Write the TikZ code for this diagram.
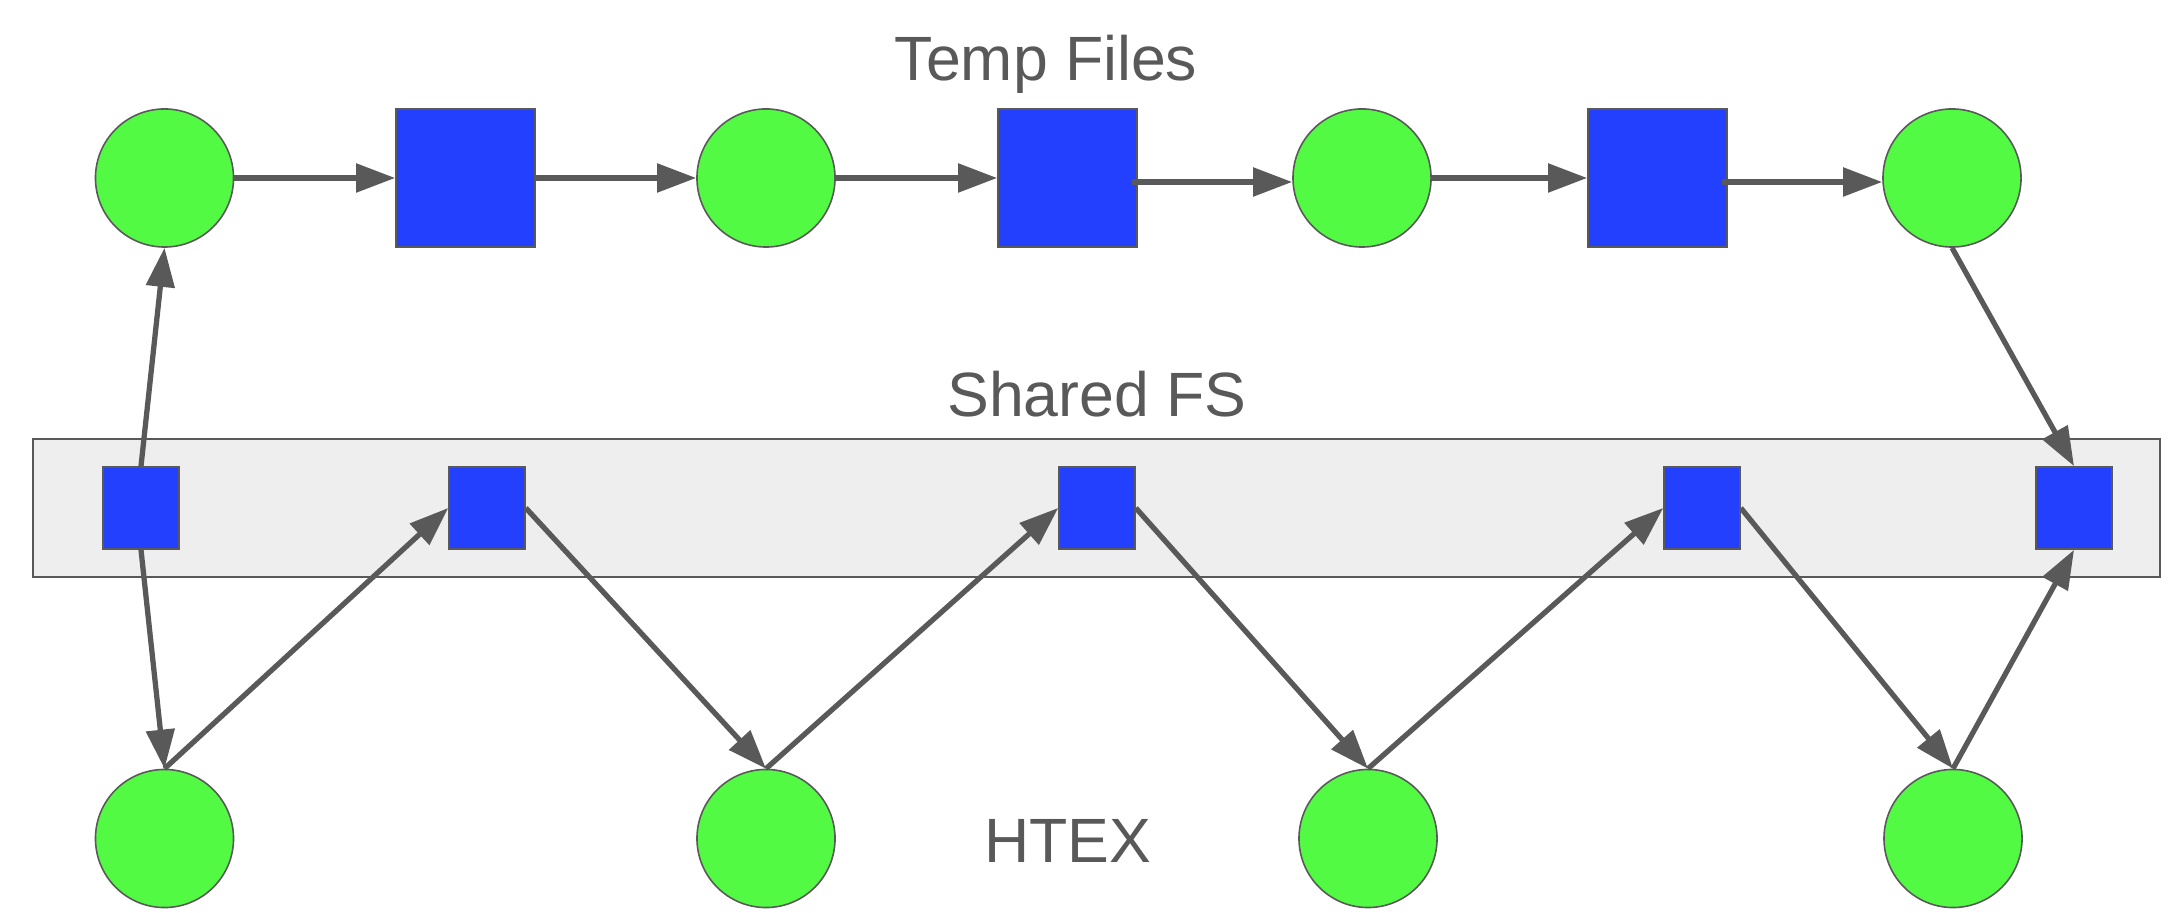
\documentclass[tikz,border=0pt]{standalone}
\usepackage{fontspec}
\setmainfont{Liberation Sans}
\usetikzlibrary{arrows.meta}
\definecolor{edgegray}{HTML}{595959}
\definecolor{jobgreen}{HTML}{53FA43}
\definecolor{fileblue}{HTML}{2440FF}
\definecolor{fsgray}{HTML}{EEEEEE}
\begin{document}
\begin{tikzpicture}[x=0.01cm,y=-0.01cm,
    job/.style={circle,draw=edgegray,fill=jobgreen,line width=0.45pt,minimum size=1.38cm,inner sep=0pt},
    tmpfile/.style={rectangle,draw=edgegray,fill=fileblue,line width=0.45pt,minimum width=1.39cm,minimum height=1.38cm,inner sep=0pt},
    fsfile/.style={tmpfile,minimum width=0.76cm,minimum height=0.82cm},
    lbl/.style={text=edgegray,font=\fontsize{17.8}{20}\selectfont,anchor=base,inner sep=0pt}]
      \useasboundingbox (0,0) rectangle (2176,913);
      \draw[edgegray,fill=fsgray,line width=0.45pt] (33,439) rectangle (2160,577);
      \draw
        (1046,81) node[lbl] (tmp){Temp Files}
        (1097,417) node[lbl] (fs){Shared FS}
        (1068,862) node[lbl] (htex){HTEX};
      \draw
        (164.5,178) node[job] (c1){}
        (465.5,178) node[tmpfile] (t1){}
        (766,178) node[job] (c2){}
        (1067.5,178) node[tmpfile] (t2){}
        (1362,178) node[job] (c3){}
        (1657.5,178) node[tmpfile] (t3){}
        (1952,178) node[job] (c4){};
      \draw
        (141,508) node[fsfile] (s1){}
        (487,508) node[fsfile] (s2){}
        (1097,508) node[fsfile] (s3){}
        (1702,508) node[fsfile] (s4){}
        (2074,508) node[fsfile] (s5){};
      \draw
        (164.5,838.5) node[job] (h1){}
        (766,838.5) node[job] (h2){}
        (1368,838.5) node[job] (h3){}
        (1953,838.5) node[job] (h4){};
      \begin{scope}[edgegray,line width=1.5pt,-{Triangle[length=3.9mm,width=2.8mm]}]
        \draw (c1) to (t1);
        \draw (t1) to (c2);
        \draw (c2) to (t2);
        \draw ([shift={(-6,4)}]t2.east) to ([shift={(0,4)}]c3.west);
        \draw (c3) to (t3);
        \draw ([shift={(-6,4)}]t3.east) to ([shift={(0,4)}]c4.west);
        \draw (c4.south) to (s5.north);
        \draw (s1.north) to (c1.south);
        \draw (s1.south) to (h1.north);
        \draw (h1.north) to (s2.west);
        \draw (s2.east) to (h2.north);
        \draw (h2.north) to (s3.west);
        \draw (s3.east) to (h3.north);
        \draw (h3.north) to (s4.west);
        \draw (s4.east) to (h4.north);
        \draw (h4.north) to (s5.south);
      \end{scope}
    \end{tikzpicture}
\end{document}
